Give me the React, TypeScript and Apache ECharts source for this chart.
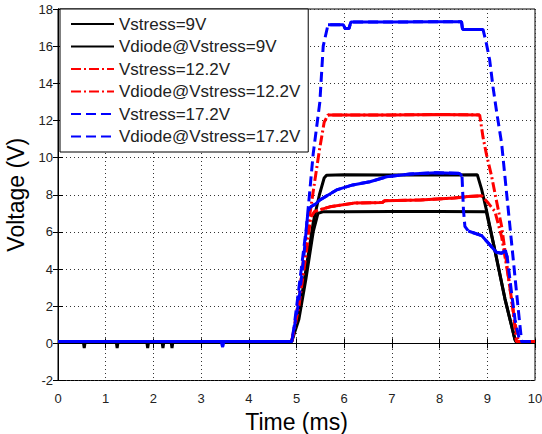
import React, { useEffect, useRef } from "react";
import * as echarts from "echarts";

type P = [number, number];

const seriesNames = [
  "Vstress=9V",
  "Vdiode@Vstress=9V",
  "Vstress=12.2V",
  "Vdiode@Vstress=12.2V",
  "Vstress=17.2V",
  "Vdiode@Vstress=17.2V",
];

const vstress9: P[] = [
  [0, 0.1], [0.53, 0.1], [0.55, -0.25], [0.57, 0.1], [1.22, 0.1], [1.24, -0.25], [1.26, 0.1],
  [1.86, 0.1], [1.88, -0.25], [1.9, 0.1], [2.18, 0.1], [2.2, -0.25], [2.22, 0.1],
  [2.37, 0.1], [2.39, -0.25], [2.41, 0.1], [4.9, 0.1], [4.95, 0.6], [5.05, 1.6],
  [5.2, 4.0], [5.35, 6.5], [5.48, 8.0], [5.58, 8.9], [5.63, 9.05], [6.0, 9.08],
  [7.0, 9.06], [8.0, 9.06], [8.79, 9.08], [8.88, 8.3], [8.98, 7.2], [9.16, 5.0],
  [9.37, 2.4], [9.58, 0.2], [9.6, 0.1], [10, 0.1],
];

const vdiode9: P[] = [
  [0, 0.1], [4.9, 0.1], [4.95, 0.5], [5.05, 1.3], [5.2, 3.5], [5.35, 6.0], [5.45, 7.0],
  [5.55, 7.08], [6.0, 7.08], [7.0, 7.1], [8.0, 7.1], [8.98, 7.08], [9.16, 5.0],
  [9.37, 2.4], [9.58, 0.2], [9.6, 0.1], [10, 0.1],
];

const vstress12: P[] = [
  [0, 0.1], [4.9, 0.1], [4.95, 0.8], [5.05, 2.5], [5.17, 5.0], [5.34, 8.0], [5.48, 10.4],
  [5.58, 11.9], [5.66, 12.3], [6.0, 12.3], [7.0, 12.3], [8.0, 12.32], [8.84, 12.3],
  [8.91, 11.1], [8.98, 10.2], [9.09, 9.0], [9.19, 7.7], [9.3, 6.3], [9.37, 5.0],
  [9.47, 3.05], [9.58, 1.1], [9.65, 0.1], [10, 0.1],
];

const vdiode12: P[] = [
  [0, 0.1], [4.9, 0.1], [4.95, 0.7], [5.05, 2.0], [5.2, 4.8], [5.3, 6.8], [5.38, 7.1],
  [5.5, 7.2], [5.7, 7.35], [6.2, 7.55], [6.8, 7.58], [6.85, 7.68], [7.6, 7.72],
  [8.3, 7.82], [8.6, 7.9], [8.88, 7.95], [9.02, 7.55], [9.16, 7.1], [9.3, 5.74],
  [9.44, 3.6], [9.54, 1.8], [9.61, 0.1], [10, 0.1],
];

const vstress17: P[] = [
  [0, 0.1], [4.9, 0.1], [4.95, 0.9], [5.1, 4.0], [5.21, 6.3], [5.35, 10.2], [5.49, 13.0],
  [5.56, 16.0], [5.66, 17.15], [5.98, 17.15], [6.02, 16.95], [6.1, 16.95], [6.14, 17.3],
  [7.0, 17.3], [8.0, 17.32], [8.46, 17.32], [8.48, 16.9], [8.91, 16.9], [8.98, 16.15],
  [9.05, 15.25], [9.12, 13.8], [9.19, 12.56], [9.3, 10.77], [9.37, 8.97], [9.44, 7.18],
  [9.51, 5.39], [9.58, 3.59], [9.65, 1.8], [9.72, 0.1], [10, 0.1],
];

const vdiode17: P[] = [
  [0, 0.1], [3.43, 0.1], [3.45, -0.2], [3.47, 0.1], [4.9, 0.1], [4.95, 0.8], [5.05, 2.3],
  [5.15, 4.6], [5.24, 7.1], [5.3, 7.35], [5.4, 7.5], [5.49, 7.72], [5.84, 8.26],
  [6.18, 8.53], [6.54, 8.7], [6.89, 8.97], [7.38, 9.12], [7.94, 9.19], [8.42, 9.15],
  [8.47, 9.0], [8.5, 7.2], [8.53, 6.3], [8.6, 6.05], [8.88, 5.8], [9.02, 5.4],
  [9.19, 4.9], [9.3, 4.85], [9.38, 5.0], [9.42, 4.6], [9.5, 2.9], [9.58, 1.3],
  [9.68, 0.1], [10, 0.1],
];

// Time ranges (ms) where the dense, noisy scope trace makes the dashed style look solid
const denseRanges: [number, number][][] = [
  [[0, 4.9]],
  [[0, 4.9]],
  [[0, 4.9], [5.66, 8.84]],
  [[0, 4.9], [5.5, 8.88]],
  [[0, 4.9], [5.66, 8.91]],
  [[0, 4.9], [5.3, 8.47], [8.6, 9.42]],
];

const seriesData: P[][] = [vstress9, vdiode9, vstress12, vdiode12, vstress17, vdiode17];
const seriesColors = ["#000000", "#000000", "#ff0000", "#ff0000", "#0000ff", "#0000ff"];
const seriesDash: (string | number[])[] = ["solid", "solid", [10, 3, 2, 3], [10, 3, 2, 3], [10, 5], [10, 5]];

const FONT = "'Liberation Sans', Arial, Helvetica, sans-serif";

export default function App() {
  const ref = useRef<HTMLDivElement>(null);
  useEffect(() => {
    if (!ref.current) return;
    const chart = echarts.init(ref.current, undefined, { renderer: "svg" });
    const tickAxisCommon = {
      axisLine: { show: true, lineStyle: { color: "#000", width: 1 } },
      axisTick: { show: true, inside: true, length: 5, lineStyle: { color: "#000" } },
    };
    const series: any[] = [];
    seriesNames.forEach((name, i) => {
      series.push({
        name,
        type: "line",
        xAxisIndex: 0,
        yAxisIndex: 0,
        data: seriesData[i],
        symbol: "none",
        showSymbol: false,
        color: seriesColors[i],
        lineStyle: { color: seriesColors[i], width: 3, type: seriesDash[i] },
        z: 2 + i * 0.01,
      });
      if (seriesDash[i] !== "solid") {
        denseRanges[i].forEach(([a, b], k) => {
          series.push({
            name: `${name} dense ${k}`,
            type: "line",
            xAxisIndex: 0,
            yAxisIndex: 0,
            data: seriesData[i].filter((p) => p[0] >= a && p[0] <= b),
            symbol: "none",
            showSymbol: false,
            silent: true,
            color: seriesColors[i],
            lineStyle: { color: seriesColors[i], width: 3, type: "solid" },
            z: 2 + i * 0.01,
          });
        });
      }
    });
    chart.setOption({
      animation: false,
      backgroundColor: "#ffffff",
      textStyle: { fontFamily: FONT },
      grid: {
        left: 58,
        right: 7,
        top: 9,
        bottom: 53.5,
        show: true,
        borderColor: "#000",
        borderWidth: 1,
        backgroundColor: "transparent",
        outerBoundsMode: "none",
        containLabel: false,
      },
      legend: {
        show: true,
        orient: "vertical",
        left: 60,
        top: 9,
        padding: [6.5, 8, 7, 10],
        itemGap: 5.5,
        itemWidth: 43,
        itemHeight: 17,
        backgroundColor: "#fff",
        borderColor: "#000",
        borderWidth: 1,
        selectedMode: false,
        itemStyle: { opacity: 0, borderWidth: 0 },
        textStyle: { fontSize: 17, color: "#222", fontFamily: FONT },
        data: seriesNames,
        z: 10,
      },
      xAxis: [
        {
          type: "value",
          min: 0,
          max: 10,
          interval: 1,
          position: "bottom",
          name: "Time (ms)",
          nameLocation: "middle",
          nameGap: 30,
          nameTextStyle: { fontSize: 23, color: "#000", fontFamily: FONT },
          ...tickAxisCommon,
          axisLabel: { fontSize: 13, color: "#222", margin: 11, fontFamily: FONT },
          splitLine: { show: true, lineStyle: { color: "#333", width: 1, type: [1, 3] } },
        },
        {
          type: "value",
          min: 0,
          max: 10,
          interval: 1,
          position: "top",
          ...tickAxisCommon,
          axisLabel: { show: false },
          splitLine: { show: false },
        },
      ],
      yAxis: [
        {
          type: "value",
          min: -2,
          max: 18,
          interval: 2,
          position: "left",
          name: "Voltage (V)",
          nameLocation: "middle",
          nameGap: 25,
          nameTextStyle: { fontSize: 23, color: "#000", fontFamily: FONT },
          ...tickAxisCommon,
          axisLabel: { fontSize: 13, color: "#222", margin: 5, fontFamily: FONT },
          splitLine: { show: true, lineStyle: { color: "#333", width: 1, type: [1, 3] } },
        },
        {
          type: "value",
          min: -2,
          max: 18,
          interval: 2,
          position: "right",
          ...tickAxisCommon,
          axisLabel: { show: false },
          splitLine: { show: false },
        },
      ],
      series,
    });
    return () => chart.dispose();
  }, []);
  return (
    <div
      ref={ref}
      style={{ position: "fixed", left: 0, top: 0, width: 542, height: 434, background: "#fff" }}
    />
  );
}
